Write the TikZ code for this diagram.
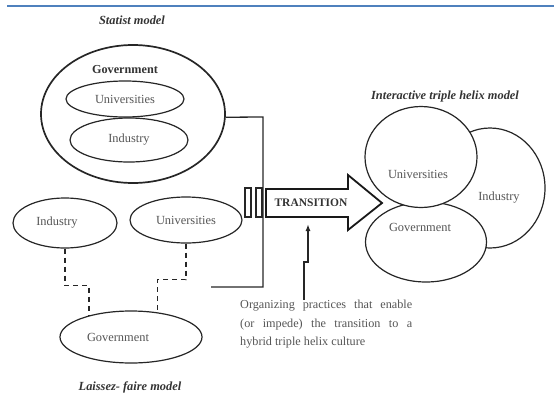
\documentclass[tikz,border=0pt]{standalone}
\usepackage{fontspec}
\setmainfont{Liberation Serif}
\usetikzlibrary{shapes.geometric,arrows.meta}
\definecolor{rulebl}{RGB}{79,129,189}
\definecolor{txtgray}{RGB}{85,85,85}
\begin{document}
\begin{tikzpicture}[x=1pt,y=1pt]
\tikzstyle{every node}+=[inner sep=0pt]
\tikzstyle{blob}=[draw=black!85,ellipse,line width=1.2pt,fill=white]
\tikzstyle{lbl}=[text=txtgray,font=\fontsize{12.4}{14}\selectfont]
\tikzstyle{ttl}=[text=black!80,font=\fontsize{12.4}{14}\selectfont\bfseries\itshape]
\useasboundingbox (0,0) rectangle (554,-399);
\draw [rulebl,line width=2pt] (7,-6) -- (554,-6);
% statist model
\node [ttl] (tstat) at (132,-20) {Statist model};
\node [blob,line width=1.7pt,minimum width=184pt,minimum height=138pt] (sgov) at (133,-114) {};
\node [text=black!80,font=\fontsize{12.2}{14}\selectfont\bfseries] (tsgov) at (125,-70) {Government};
\node [blob,lbl,minimum width=118pt,minimum height=36pt] (suni) at (125,-99) {Universities};
\node [blob,lbl,minimum width=118pt,minimum height=44pt] (sind) at (129,-140) {Industry};
% laissez-faire model
\node [blob,minimum width=104pt,minimum height=50pt] (lind) at (65,-223) {};
\node [lbl] (tlind) at (57,-223) {Industry};
\node [blob,lbl,minimum width=112pt,minimum height=46pt] (luni) at (186,-220) {Universities};
\node [blob,minimum width=142pt,minimum height=52pt] (lgov) at (131,-337) {};
\node [lbl] (tlgov) at (118,-337) {Government};
\node [ttl] (tlais) at (130,-387) {Laissez- faire model};
\draw [black!85,line width=1.4pt,dash pattern=on 5pt off 4pt] (lind.south) -- ++(0,-37) -| (lgov.153);
\draw [black!85,line width=1.4pt,dash pattern=on 5pt off 4pt] (luni.south) -- ++(0,-36) -| (lgov.43);
% path to the transition
\coordinate (bend) at (263,-117);
\coordinate (pass) at (211,-287);
\draw [black!85,line width=1.3pt] (sgov.-2) -- (bend) |- (pass);
\draw [black!85,line width=1.3pt] (245,-188) rectangle (251,-217);
\draw [black!85,line width=1.3pt] (256,-188) rectangle (262,-217);
\draw [black!90,line width=1.8pt,line join=miter] (266,-189) -- (348,-189) -- (348,-175) -- (382,-203) -- (348,-230) -- (348,-217) -- (266,-217) -- cycle;
\node [text=black!80,font=\fontsize{11.5}{13}\selectfont\bfseries] (trans) at (311,-203) {TRANSITION};
% organizing practices
\node [lbl,font=\fontsize{12.2}{18.5}\selectfont,text width=172pt,align=justify,anchor=north west] (cap) at (240,-300)
  {\hyphenpenalty=10000 \tolerance=10000 Organizing practices that enable\linebreak (or impede) the transition to a\linebreak hybrid triple helix culture};
\coordinate (aim) at (308,-224);
\draw [black!85,line width=1.4pt,-{Latex[length=7pt,width=5pt]}] ([xshift=64pt]cap.north west) |- ++(4,38) -- (aim);
% interactive triple helix model
\node [ttl] (tinter) at (445,-97) {Interactive triple helix model};
\node [blob,minimum width=110pt,minimum height=120pt] (hind) at (490,-188) {};
\node [blob,minimum width=121pt,minimum height=80pt] (hgov) at (426,-242) {};
\node [blob,minimum width=112pt,minimum height=101pt] (huni) at (421,-157) {};
\node [lbl] (thuni) at (418,-174) {Universities};
\node [lbl] (thind) at (499,-198) {Industry};
\node [lbl] (thgov) at (420,-227) {Government};
\end{tikzpicture}
\end{document}
